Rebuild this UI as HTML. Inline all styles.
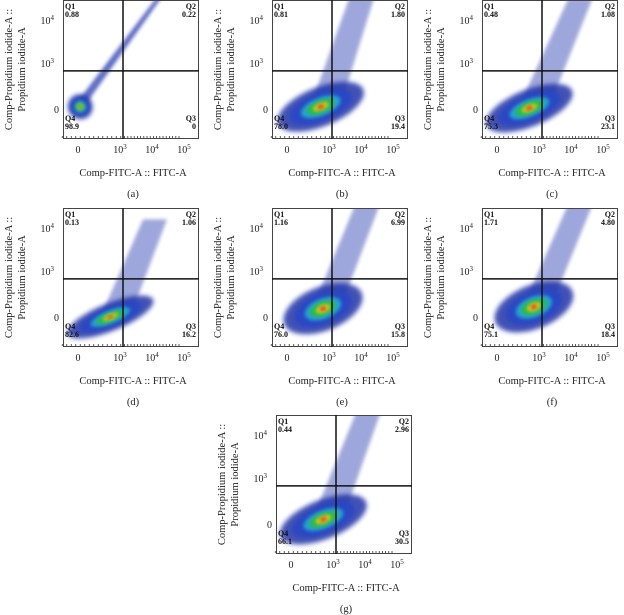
<!DOCTYPE html>
<html><head><meta charset="utf-8">
<style>
html,body{margin:0;padding:0;background:#fff;}
svg{display:block;font-family:"Liberation Serif",serif;}
</style></head>
<body>
<svg id="fig" width="624" height="615" viewBox="0 0 624 615">
<defs>
<filter id="blur2" x="-50%" y="-50%" width="200%" height="200%"><feGaussianBlur stdDeviation="1.8"/></filter>
<filter id="blur4" x="-50%" y="-50%" width="200%" height="200%"><feGaussianBlur stdDeviation="2.5"/></filter>
</defs>
</svg>
<script>
// panel labels and quadrant percentages
const panelIds = ['a','b','c','d','e','f','g'];
const q1Vals = ['0.88','0.81','0.48','0.13','1.16','1.71','0.44'];
const q2Vals = ['0.22','1.80','1.08','1.06','6.99','4.80','2.96'];
const q3Vals = ['0','19.4','23.1','16.2','15.8','18.4','30.5'];
const q4Vals = ['98.9','78.0','75.3','82.6','76.0','75.1','66.1'];
// cluster centre (display units: 0 => 0, 1 => 10^3, 2 => 10^4, 3 => 10^5)
const clusterX = [0.05, 0.75, 0.72, 0.72, 0.80, 0.82, 0.72];
const clusterY = [0.05, 0.05, 0.02, 0.00, 0.18, 0.22, 0.10];
// spread of cloud (display units)
const spreadX = [0.55, 2.3, 2.3, 2.3, 2.1, 2.1, 2.3];
const spreadY = [0.55, 0.85, 0.80, 0.60, 0.95, 0.95, 0.85];
// diagonal tail end point (display units)
const tailX = [2.6, 2.1, 2.2, 2.0, 2.3, 2.4, 2.1];
const tailY = [3.0, 2.9, 2.5, 2.2, 2.9, 2.9, 2.7];
const xTickLabels = ['0','10','10','10'];
const xTickExp = ['','3','4','5'];
const yTickLabels = ['0','10','10'];
const yTickExp = ['','3','4'];
const xTickVals = [0,1,2,3];
const yTickVals = [0,1,2];
const gateX = 1.0, gateY = 0.83;

const origins = [[63,0],[272,0],[482,0],[63,208],[272,208],[482,208],[276,415]];
const W=136,H=139;
const NS='http://www.w3.org/2000/svg';
const svg=document.getElementById('fig');
function xs(v){
  if(v<=1) return 15+v*45;
  return 60+(v-1)*32;
}
function ys(v){
  if(v<=1) return 109-v*46;
  return 63-(v-1)*43;
}
function mk(tag,attrs,parent){const e=document.createElementNS(NS,tag);for(const k in attrs)e.setAttribute(k,attrs[k]);(parent||svg).appendChild(e);return e;}

panelIds.forEach((id,i)=>{
  const [ox,oy]=origins[i];
  const g=mk('g',{transform:`translate(${ox},${oy})`});
  
  
  const clipId='clip'+i;
  const cp=mk('clipPath',{id:clipId},g);
  mk('rect',{x:0,y:0,width:W,height:H},cp);
  const plot=mk('g',{'clip-path':`url(#${clipId})`},g);
  
  
  const cx=xs(clusterX[i]), cy=ys(clusterY[i]);
  const rx=(xs(clusterX[i]+spreadX[i]/2)-xs(clusterX[i]-spreadX[i]/2))/2;
  const ry=(ys(clusterY[i]-spreadY[i]/2)-ys(clusterY[i]+spreadY[i]/2))/2;
  const tx=xs(tailX[i]), ty=ys(tailY[i]);
  const tw=i===0?2:12;
  const tail=mk('polygon',{points:`${cx-rx*0.15},${cy-ry*0.5} ${tx-tw},${ty} ${tx+tw},${ty} ${cx+rx*0.45},${cy-ry*0.2}`,fill:'#2a3cb0',opacity:i===0?0.75:0.45,filter:'url(#blur2)'},plot);
  
  
  const rot=i===0?-40:-22;
  const layers=[[1.0,'#2335a8',0.85],[0.72,'#2b46c4',0.95],[0.46,'#22a4d4',1],[0.33,'#2fb84a',1],[0.17,'#e8e020',1],[0.09,'#e21a1a',1]];
  layers.forEach((L,k)=>{
    const e=mk('ellipse',{cx:cx,cy:cy,rx:rx*L[0],ry:ry*L[0],fill:L[1],opacity:L[2],transform:`rotate(${rot} ${cx} ${cy})`,filter:k===0?'url(#blur4)':'url(#blur2)'},plot);
    
    
  });
  const fr=mk('rect',{x:0.5,y:0.5,width:W-1,height:H-1,fill:'none',stroke:'#444','stroke-width':1},g);
  
  
  const vl=mk('line',{x1:xs(gateX),x2:xs(gateX),y1:0,y2:H,stroke:'#111','stroke-width':1.5},g);
  
  
  const hl=mk('line',{x1:0,x2:W,y1:ys(gateY),y2:ys(gateY),stroke:'#111','stroke-width':1.5},g);
  
  
  for(let t=0;t<3.2;t+=0.1){mk('line',{x1:xs(t-0.35),x2:xs(t-0.35),y1:H-1,y2:H-3,stroke:'#333','stroke-width':0.8},g);}
  const qs=[['Q1',q1Vals[i],2,9,'start'],['Q2',q2Vals[i],W-3,9,'end'],['Q4',q4Vals[i],2,121,'start'],['Q3',q3Vals[i],W-3,121,'end']];
  qs.forEach(q=>{
    const t1=mk('text',{x:q[2],y:q[3],'font-size':8,'font-weight':'bold','text-anchor':q[4],fill:'#111'},g);t1.textContent=q[0];
    
    
    const t2=mk('text',{x:q[2],y:q[3]+8,'font-size':8,'font-weight':'bold','text-anchor':q[4],fill:'#111'},g);t2.textContent=q[1];
    
    
  });
  xTickVals.forEach((v,k)=>{
    const t=mk('text',{x:xs(v)-(xTickExp[k]?3:0),y:H+14,'font-size':10,'text-anchor':'middle',fill:'#222'},g);
    t.textContent=xTickLabels[k];
    if(xTickExp[k]){const s=mk('tspan',{dy:-4,'font-size':7},t);s.textContent=xTickExp[k];}
    
    
  });
  yTickVals.forEach((v,k)=>{
    const t=mk('text',{x:-4-(yTickExp[k]?5:0),y:ys(v)+4,'font-size':10,'text-anchor':'end',fill:'#222'},g);
    t.textContent=yTickLabels[k];
    if(yTickExp[k]){const s=mk('tspan',{dy:-4,'font-size':7},t);s.textContent=yTickExp[k];}
    
    
  });
  const xt=mk('text',{x:W/2+2,y:H+37,'font-size':10.5,'text-anchor':'middle',fill:'#222'},g);
  xt.textContent='Comp-FITC-A :: FITC-A';
  
  
  const yt=mk('text',{transform:`translate(-51,${H/2}) rotate(-90)`,'font-size':10.5,'text-anchor':'middle',fill:'#222'},g);
  
  
  const s1=mk('tspan',{x:0,y:0},yt);s1.textContent='Comp-Propidium iodide-A ::';
  const s2=mk('tspan',{x:0,y:13},yt);s2.textContent='Propidium iodide-A';
  const pl=mk('text',{x:W/2+2,y:H+58,'font-size':10.5,'text-anchor':'middle',fill:'#222'},g);
  pl.textContent='('+id+')';
  
  
});
</script>
</body></html>
